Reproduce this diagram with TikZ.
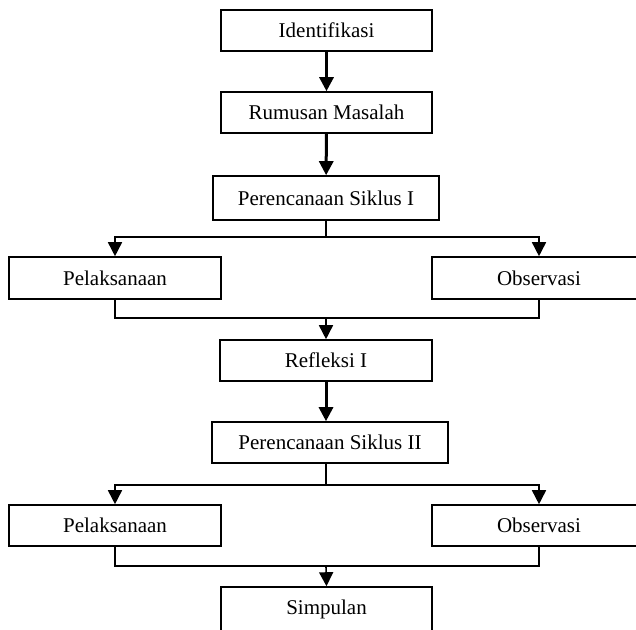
\documentclass[tikz,border=0pt]{standalone}
\usepackage{fontspec}
\setmainfont{Liberation Serif}
\usetikzlibrary{arrows.meta}
\tikzstyle{box} = [draw, line width=1.6pt, text centered, inner sep=0pt, font=\fontsize{21}{25}\selectfont]
\tikzstyle{link} = [line width=1.6pt]
\tikzstyle{arr} = [line width=1.6pt, -{Triangle[width=14pt,length=14pt]}]
\tikzstyle{bigarr} = [line width=3pt, -{Triangle[width=14pt,length=14pt]}]

\begin{document}
\begin{tikzpicture}[x=1pt, y=-1pt]
		\clip (0,0) rectangle (636,629);
		\node[box, minimum width=211pt, minimum height=41pt] (ident) at (326.5,30.5) {Identifikasi};
		\node[box, minimum width=211pt, minimum height=41pt] (rumus) at (326.5,112.5) {Rumusan Masalah};
		\node[box, minimum width=226pt, minimum height=44pt] (renA) at (326,198) {Perencanaan Siklus I};
		\node[box, minimum width=212pt, minimum height=42pt] (lakA) at (115,278) {Pelaksanaan};
		\node[box, minimum width=214pt, minimum height=42pt] (obsA) at (539,278) {Observasi};
		\node[box, minimum width=212pt, minimum height=41pt] (refA) at (326,360.5) {Refleksi I};
		\node[box, minimum width=236pt, minimum height=41pt] (renB) at (330,442.5) {Perencanaan Siklus II};
		\node[box, minimum width=212pt, minimum height=41pt] (lakB) at (115,525.5) {Pelaksanaan};
		\node[box, minimum width=214pt, minimum height=41pt] (obsB) at (539,525.5) {Observasi};
		\node[box, minimum width=211pt, minimum height=44pt] (simp) at (326.5,609) {Simpulan};

		\coordinate (pisahA) at (326,237);
		\coordinate (gabungA) at (326,318);
		\coordinate (pisahB) at (326,485);
		\coordinate (gabungB) at (326,566);

		\draw[bigarr] (ident) -- (rumus);
		\draw[bigarr] (rumus) -- (renA);
		\draw[link] (renA.south) -- (pisahA);
		\draw[arr] (pisahA) -| (lakA.north);
		\draw[arr] (pisahA) -| (obsA.north);
		\draw[link] (lakA.south) |- (gabungA) -| (obsA.south);
		\draw[arr] (gabungA) -- (refA.north);
		\draw[bigarr] (refA.south) -- (renB.north -| refA.south);
		\draw[link] (renB.south -| pisahB) -- (pisahB);
		\draw[arr] (pisahB) -| (lakB.north);
		\draw[arr] (pisahB) -| (obsB.north);
		\draw[link] (lakB.south) |- (gabungB) -| (obsB.south);
		\draw[arr] (gabungB) -- (simp.north);
\end{tikzpicture}
\end{document}
